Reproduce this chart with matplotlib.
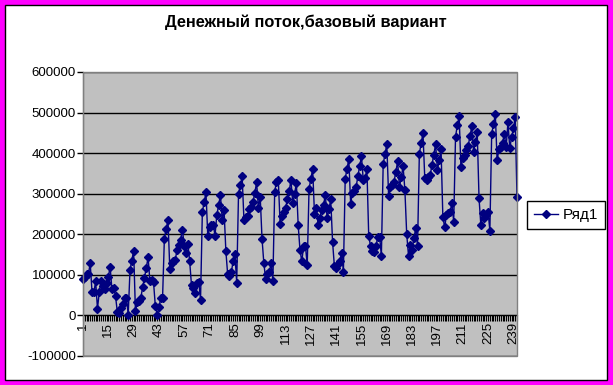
# Cash flow chart, base scenario (Excel-style line chart)

import numpy as np
import matplotlib
matplotlib.use("Agg")
import matplotlib.pyplot as plt
from matplotlib.patches import Rectangle

plt.rcParams["font.family"] = ["Liberation Sans", "DejaVu Sans"]

# ─── Data ─────────────────────────────────────────────────────────────────────

TITLE = "Денежный поток,базовый вариант"
SERIES_NAME = "Ряд1"

# cash flow per period, thousands
FLOW_K = [
    91, 95, 101, 103, 128, 57, 57, 84, 17, 57, 84, 72, 64, 81, 95, 120, 64, 68,
    47, 8, 7, 19, 28, 44, 44, 2, 113, 135, 160, 10, 32, 35, 44, 70, 93, 118,
    143, 84, 88, 82, 23,
    2, 20, 43, 44, 189, 214, 236, 114, 129, 133, 137, 161, 173, 187, 211, 171,
    153, 177, 133, 74, 68, 56, 81, 83, 39, 255, 280, 304, 196, 218, 222, 224,
    197, 247, 272, 297, 236, 260, 159, 101, 97,
    106, 133, 151, 81, 300, 322, 343, 236, 242, 246, 262, 268, 280, 302, 328,
    266, 292, 189, 129, 90, 101, 106, 129, 85, 305, 330, 334, 226, 246, 254,
    264, 286, 306, 334, 276, 300, 326, 222, 161, 133,
    171, 171, 124, 312, 337, 361, 251, 265, 224, 241, 261, 271, 298, 239, 263,
    286, 182, 122, 118, 126, 133, 155, 108, 337, 361, 386, 275, 302, 306, 316,
    343, 369, 392, 333, 339, 361, 196, 171, 159,
    157, 170, 194, 194, 147, 373, 398, 422, 294, 317, 321, 330, 354, 380, 317,
    340, 368, 309, 201, 147, 174, 162, 190, 215, 170, 399, 424, 450, 338, 335,
    340, 346, 371, 395, 422, 358, 383, 409, 243,
    217, 248, 252, 256, 276, 231, 440, 469, 491, 365, 387, 395, 408, 418, 442,
    466, 403, 428, 452, 289, 223, 252, 239, 248, 256, 209, 448, 471, 496, 383,
    409, 416, 425, 448, 414, 477, 412, 439, 461, 490, 291,
]

Y_TICKS = [-100000, 0, 100000, 200000, 300000, 400000, 500000, 600000]
X_LABEL_STEP = 14

# ─── Figure ───────────────────────────────────────────────────────────────────

W, H = 613, 385
NAVY = "#000080"

fig = plt.figure(figsize=(W / 100, H / 100), dpi=100)
fig.patch.set_facecolor("#FF00FF")

# white chart area with black frame inside the magenta border
fig.patches.append(Rectangle(
    (5 / W, 5 / H), 602 / W, 375 / H, transform=fig.transFigure,
    facecolor="white", edgecolor="black", linewidth=1, zorder=-10,
))

ax = fig.add_axes([83 / W, 29 / H, 434 / W, 284 / H])
ax.set_zorder(1)
ax.set_facecolor("#C0C0C0")

x = np.arange(1, len(FLOW_K) + 1)
y = np.array(FLOW_K) * 1000

ax.plot(x, y, color=NAVY, linewidth=1, marker="D", markersize=4,
        label=SERIES_NAME, clip_on=False, zorder=3)

ax.set_xlim(1, len(FLOW_K))
ax.set_ylim(Y_TICKS[0], Y_TICKS[-1])

# value axis
ax.set_yticks(Y_TICKS)
ax.set_yticklabels([str(v) for v in Y_TICKS])
ax.yaxis.grid(True, color="black", linewidth=1)
ax.set_axisbelow(True)
ax.tick_params(axis="y", direction="out", length=4, width=1,
               labelsize=9.5, pad=1)

# category axis crossing at zero, tick at every point
ax.set_xticks(x)
ax.set_xticklabels([str(i) if (i - 1) % X_LABEL_STEP == 0 else "" for i in x])
ax.tick_params(axis="x", direction="out", length=4, width=0.8,
               labelsize=9.5, labelrotation=90, pad=1)
ax.spines["bottom"].set_position(("data", 0))
ax.spines["bottom"].set_color("black")
ax.spines["left"].set_color("black")
for side in ("top", "right"):
    ax.spines[side].set_visible(False)

# grey plot-area border
ax.add_patch(Rectangle((0, 0), 1, 1, transform=ax.transAxes, fill=False,
                       edgecolor="#808080", linewidth=1, clip_on=False,
                       zorder=4))

fig.text(306 / W, 1 - 22 / H, TITLE, ha="center", va="center",
         fontsize=11.8, fontweight="bold")

leg = fig.legend(loc="center", bbox_to_anchor=(566 / W, 1 - 215 / H),
                 frameon=True, fancybox=False, edgecolor="black",
                 framealpha=1, fontsize=11, handlelength=1.6,
                 handletextpad=0.3, borderpad=0.45)
leg.get_frame().set_linewidth(1)

fig.savefig("out.png", dpi=100, facecolor=fig.get_facecolor())
plt.close(fig)
